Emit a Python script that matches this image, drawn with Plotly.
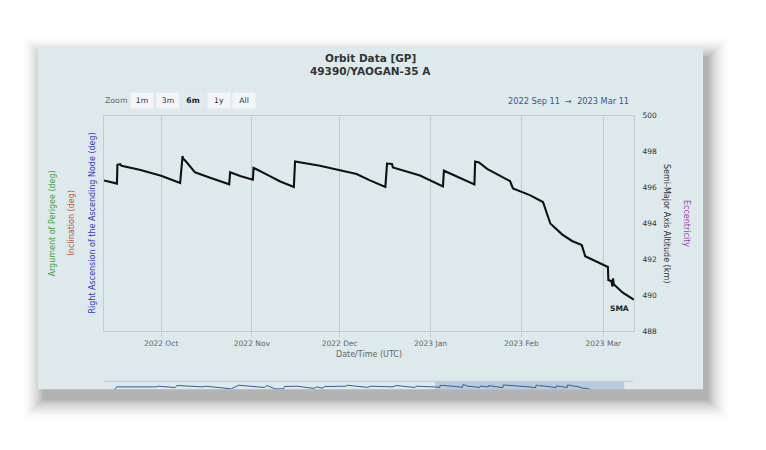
import plotly.graph_objects as go

W, H = 766, 450

# semi-major axis altitude (km), the 6 month window in the main plot
sma_times = [
    "2022-09-11 12:00", "2022-09-15 22:00", "2022-09-16 02:00", "2022-09-17 00:00",
    "2022-09-17 12:00", "2022-09-24 00:00", "2022-10-01 00:00", "2022-10-07 12:00",
    "2022-10-08 08:00", "2022-10-08 12:00", "2022-10-09 12:00", "2022-10-12 14:00",
    "2022-10-17 18:00", "2022-10-24 06:00", "2022-10-24 14:00", "2022-10-28 00:00",
    "2022-11-01 08:00", "2022-11-01 14:00", "2022-11-07 00:00", "2022-11-10 12:00",
    "2022-11-15 08:00", "2022-11-15 18:00", "2022-11-24 06:00", "2022-11-30 12:00",
    "2022-12-06 18:00", "2022-12-11 08:00", "2022-12-16 14:00", "2022-12-17 04:00",
    "2022-12-18 20:00", "2022-12-19 04:00", "2022-12-28 10:00", "2023-01-05 06:00",
    "2023-01-05 14:00", "2023-01-16 00:00", "2023-01-16 06:00", "2023-01-17 14:00",
    "2023-01-20 08:00", "2023-01-28 04:00", "2023-01-29 04:00", "2023-02-03 22:00",
    "2023-02-08 10:00", "2023-02-10 22:00", "2023-02-14 22:00", "2023-02-18 08:00",
    "2023-02-21 16:00", "2023-02-22 20:00", "2023-03-01 02:00", "2023-03-02 14:00",
    "2023-03-02 18:00", "2023-03-03 18:00", "2023-03-04 04:00", "2023-03-04 08:00",
    "2023-03-04 14:00", "2023-03-07 16:00", "2023-03-11 10:00",
]
sma_km = [
    496.40, 496.22, 497.27, 497.30,
    497.22, 496.98, 496.66, 496.25,
    497.76, 497.62, 497.45, 496.85,
    496.55, 496.18, 496.85, 496.64,
    496.44, 497.10, 496.65, 496.35,
    496.03, 497.45, 497.22, 496.98,
    496.76, 496.40, 496.03, 497.34,
    497.32, 497.12, 496.67, 496.07,
    496.94, 496.18, 497.45, 497.40,
    497.04, 496.36, 495.95, 495.58,
    495.20, 494.00, 493.40, 493.03,
    492.80, 492.18, 491.70, 491.58,
    490.85, 490.80, 490.50, 490.95,
    490.62, 490.15, 489.76,
]

# older history, only seen in the navigator strip
nav_times_early = [
    "2021-11-08", "2021-11-10", "2021-12-18", "2021-12-20", "2022-01-05", "2022-01-07",
    "2022-02-01", "2022-02-03", "2022-02-28", "2022-03-07", "2022-04-01", "2022-04-03",
    "2022-04-11", "2022-04-19", "2022-04-20", "2022-05-02", "2022-05-18", "2022-05-21",
    "2022-05-26", "2022-05-29", "2022-06-18", "2022-06-19", "2022-07-09", "2022-07-11",
    "2022-08-02", "2022-08-05", "2022-08-23", "2022-08-24",
]
nav_km_early = [
    495.00, 496.45, 496.45, 496.80, 496.15, 497.15,
    496.45, 496.80, 495.45, 497.30, 496.15, 497.15,
    495.45, 495.45, 496.65, 496.80, 495.65, 496.45,
    495.80, 496.65, 496.80, 497.30, 496.20, 496.80,
    496.45, 497.15, 496.15, 496.80,
]

month_ticks = ["2022-10-01", "2022-11-01", "2022-12-01", "2023-01-01", "2023-02-01", "2023-03-01"]
sma_ticks = [488, 490, 492, 494, 496, 498, 500]
zoom_buttons = ["1m", "3m", "6m", "1y", "All"]
selected_button = "6m"
view_range = ["2022-09-11 12:00", "2023-03-11 12:00"]
nav_range = ["2021-10-29", "2023-03-20"]

FONT = "DejaVu Sans"
PANEL = "#dde9ea"
GRID = "#c4cbcc"


def px(x):
    return x / W


def py(y):
    return 1 - y / H


def label(text, x, y, size=8, color="#333", **kw):
    # paper-placed text, always centred on (x, y) unless told otherwise
    d = dict(text=text, x=px(x), y=py(y), xref="paper", yref="paper",
             xanchor="center", yanchor="middle", showarrow=False,
             font=dict(family=FONT, size=size, color=color, weight=kw.pop("weight", "normal")))
    d.update(kw)
    return d


fig = go.Figure()

fig.add_trace(go.Scatter(
    x=sma_times, y=sma_km, mode="lines", name="SMA",
    line=dict(color="#111111", width=2.1), xaxis="x", yaxis="y",
))
fig.add_trace(go.Scatter(
    x=nav_times_early + sma_times, y=nav_km_early + sma_km, mode="lines",
    line=dict(color="#3b5a8c", width=1), xaxis="x2", yaxis="y2",
))

shapes = []
# soft drop shadow round the chart panel
N, A, dx, dy = 24, 0.3, 5, 11
for k in range(N):
    a = A * ((1 - k / N) ** 2 - (1 - (k + 1) / N) ** 2)
    shapes.append(dict(
        type="rect", xref="paper", yref="paper", layer="below",
        x0=px(38 + dx - k), x1=px(703 + dx + k), y0=py(393 + dy + k), y1=py(43 + dy - k),
        fillcolor=f"rgba(0,0,0,{a:.4f})", line=dict(width=0),
    ))
shapes.append(dict(
    type="rect", xref="paper", yref="paper", layer="below",
    x0=px(38), x1=px(703), y0=py(393), y1=py(43),
    fillcolor=PANEL, line=dict(width=0),
))
# navigator: selected window mask and top outline
shapes.append(dict(
    type="rect", xref="x2", yref="paper", layer="below",
    x0=view_range[0], x1=view_range[1], y0=py(393), y1=py(385),
    fillcolor="rgba(102,133,194,0.3)", line=dict(width=0),
))
shapes.append(dict(
    type="line", xref="paper", yref="paper",
    x0=px(104), x1=px(633), y0=py(385), y1=py(385),
    line=dict(color=GRID, width=1),
))

ann = [
    label("Orbit Data [GP]", 370, 55.5, size=10.5, weight="bold"),
    label("49390/YAOGAN-35 A", 370, 68, size=10.5, weight="bold"),
    label("Zoom", 115.5, 98.5, size=7.8, color="#666"),
]
for i, b in enumerate(zoom_buttons):
    sel = b == selected_button
    ann.append(label(
        b, 142 + 25.6 * i, 98.5, size=7.7, color="#222" if sel else "#333",
        weight="bold" if sel else "normal",
        width=22, height=15, borderpad=0, bgcolor="#e2eaf0" if sel else "#f3f6f6",
    ))
ann.append(label("2022 Sep 11  \u2192  2023 Mar 11", 631, 98.5, size=8.2, color="#34589e",
                 xanchor="right"))
ann.append(label("Date/Time (UTC)", 369, 358, color="#666"))
left_titles = [
    ("Argument of Perigee (deg)", 53, "#44a044"),
    ("Inclination (deg)", 72, "#b05a50"),
    ("Right Ascension of the Ascending Node (deg)", 93, "#3333cc"),
]
for t, x, c in left_titles:
    ann.append(label(t, x, 224, color=c, textangle=-90))
right_titles = [
    ("Semi-Major Axis Altitude (km)", 666.5, "#333"),
    ("Eccentricity", 686.5, "#9a3fb0"),
]
for t, x, c in right_titles:
    ann.append(label(t, x, 224, color=c, textangle=90))
ann.append(dict(text="SMA", x=sma_times[-1], y=sma_km[-1], xref="x", yref="y",
                xanchor="right", yanchor="top", xshift=-3, yshift=-2, showarrow=False,
                font=dict(family=FONT, size=7.5, color="#222", weight="bold")))

fig.update_layout(
    width=W, height=H, margin=dict(l=0, r=0, t=0, b=0),
    paper_bgcolor="white", plot_bgcolor="rgba(0,0,0,0)",
    showlegend=False, font=dict(family=FONT),
    shapes=shapes, annotations=ann,
    xaxis=dict(
        domain=[px(104), px(634)], anchor="y", range=view_range,
        tickvals=month_ticks, tickformat="%Y %b",
        showgrid=True, gridcolor=GRID, gridwidth=1, zeroline=False,
        ticks="outside", ticklen=5, tickcolor=GRID,
        showline=True, mirror=True, linecolor=GRID, linewidth=1,
        tickfont=dict(family=FONT, size=7.5, color="#666"),
    ),
    yaxis=dict(
        domain=[py(334), py(114)], anchor="x", side="right", range=[488, 500],
        tickvals=sma_ticks, showgrid=False, zeroline=False, ticks="",
        showline=True, mirror=True, linecolor=GRID, linewidth=1,
        ticklabelstandoff=6,
        tickfont=dict(family=FONT, size=7.5, color="#333"),
    ),
    xaxis2=dict(domain=[px(104), px(633)], anchor="y2", range=nav_range, visible=False),
    yaxis2=dict(domain=[py(393), py(385)], anchor="x2", range=[495.3, 499.3], visible=False),
)

# the page's default 8px body margin would push the whole figure off its place
fig.write_html("out.html", config={"displayModeBar": False},
               post_script="document.body.style.margin='0';")
